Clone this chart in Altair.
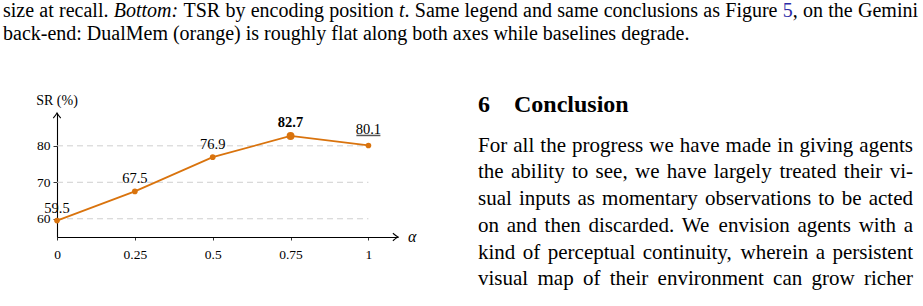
import altair as alt
import pandas as pd

# ---------------- data ----------------
alpha = [0, 0.25, 0.5, 0.75, 1]
sr = [59.5, 67.5, 76.9, 82.7, 80.1]
best_alpha = 0.75          # bold label
second_alpha = 1.0         # underlined label
grid_vals = [60, 70, 80]
x_ticks = [0, 0.25, 0.5, 0.75, 1]

# caption tokens: (text, style, glued-to-previous)
caption1 = [
    ("size", "n", False), ("at", "n", False), ("recall.", "n", False),
    ("Bottom:", "i", False), ("TSR", "n", False), ("by", "n", False),
    ("encoding", "n", False), ("position", "n", False), ("t", "i", False),
    (".", "n", True), ("Same", "n", False), ("legend", "n", False),
    ("and", "n", False), ("same", "n", False), ("conclusions", "n", False),
    ("as", "n", False), ("Figure", "n", False), ("5", "b", False),
    (",", "n", True), ("on", "n", False), ("the", "n", False), ("Gemini", "n", False),
]
caption2 = "back-end: DualMem (orange) is roughly flat along both axes while baselines degrade."
heading_num = "6"
heading_txt = "Conclusion"
body_lines = [
    "For all the progress we have made in giving agents",
    "the ability to see, we have largely treated their vi-",
    "sual inputs as momentary observations to be acted",
    "on and then discarded. We envision agents with a",
    "kind of perceptual continuity, wherein a persistent",
    "visual map of their environment can grow richer",
]

# ---------------- style / layout ----------------
ORANGE = "#D9730D"
LINKBLUE = "#2B2BA6"
FONT = "Liberation Serif, Times New Roman, Times, serif"
LEFT, TOP = 57, 113          # page position of the plot origin
W, H = 341, 124              # plot area (axis lengths)

ROMAN = {" ": 250, "!": 333, "(": 333, ")": 333, ",": 250, "-": 333, ".": 250,
         ":": 278, ";": 278, "%": 833,
         "A": 722, "B": 667, "C": 667, "D": 722, "E": 611, "F": 556, "G": 722,
         "H": 722, "I": 333, "J": 389, "K": 722, "L": 611, "M": 889, "N": 722,
         "O": 722, "P": 556, "Q": 722, "R": 667, "S": 556, "T": 611, "U": 722,
         "V": 722, "W": 944, "X": 722, "Y": 722, "Z": 611,
         "a": 444, "b": 500, "c": 444, "d": 500, "e": 444, "f": 333, "g": 500,
         "h": 500, "i": 278, "j": 278, "k": 500, "l": 278, "m": 778, "n": 500,
         "o": 500, "p": 500, "q": 500, "r": 333, "s": 389, "t": 278, "u": 500,
         "v": 500, "w": 722, "x": 500, "y": 500, "z": 444}
ITALIC = dict(ROMAN)
ITALIC.update({"B": 611, "m": 722, ":": 333, "t": 278, "o": 500})


def tok_width(t, style, size):
    table = ITALIC if style == "i" else ROMAN
    return sum(table.get(c, 500) for c in t) / 1000.0 * size


def justify(tokens, x0, x1, size, base_y):
    widths = [tok_width(t, s, size) for t, s, g in tokens]
    gaps = sum(1 for t, s, g in tokens[1:] if not g)
    space = (x1 - x0 - sum(widths)) / max(gaps, 1)
    rows, x = [], x0
    for i, ((t, s, g), w) in enumerate(zip(tokens, widths)):
        if i > 0 and not g:
            x += space
        rows.append({"word": t, "px": x - LEFT, "py": base_y - TOP, "style": s})
        x += w
    return rows


rows = justify(caption1, 3, 918, 20, 17)
rows.append({"word": caption2, "px": 3 - LEFT, "py": 40 - TOP, "style": "n"})
cap_df = pd.DataFrame(rows)

body_rows = []
for k, line in enumerate(body_lines):
    toks = [(w, "n", False) for w in line.split(" ")]
    body_rows += justify(toks, 478, 913, 21, 151.7 + 26.7 * k)
body_df = pd.DataFrame(body_rows)

head_df = pd.DataFrame([
    {"word": heading_num, "px": 478 - LEFT, "py": 111.7 - TOP},
    {"word": heading_txt, "px": 514 - LEFT, "py": 111.7 - TOP},
])

df = pd.DataFrame({"alpha": alpha, "sr": sr})
grid_df = pd.DataFrame({"gy": grid_vals, "x0": [0] * len(grid_vals), "x1": [1] * len(grid_vals)})

xs = alt.Scale(domain=[0, 1.095], nice=False, zero=False)
ys = alt.Scale(domain=[55, 89], nice=False, zero=False)

x_axis = alt.Axis(values=x_ticks, labelExpr="format(datum.value, '.2~f')", title=None, grid=False,
                  domainColor="black", domainWidth=1.1, tickColor="black",
                  tickSize=3, tickWidth=0.8, labelPadding=18, labelBaseline="alphabetic",
                  labelFont=FONT, labelFontSize=13.5, labelColor="black",
                  labelFlush=False, labelOverlap=False)
y_axis = alt.Axis(values=grid_vals, title=None, grid=False,
                  domainColor="black", domainWidth=1.1, tickColor="black",
                  tickSize=4, tickWidth=0.8, labelPadding=3, labelBaseline="middle",
                  labelFont=FONT, labelFontSize=13.5, labelColor="black",
                  labelOverlap=False)

grid = alt.Chart(grid_df).mark_rule(color="#cfcfcf", strokeWidth=1, strokeDash=[6, 4]).encode(
    x=alt.X("x0:Q", scale=xs, axis=x_axis), x2="x1:Q",
    y=alt.Y("gy:Q", scale=ys, axis=y_axis))

base = alt.Chart(df).encode(x=alt.X("alpha:Q", scale=xs, axis=None),
                            y=alt.Y("sr:Q", scale=ys, axis=None))
line = base.mark_line(color=ORANGE, strokeWidth=1.8)
pts = base.transform_filter(alt.datum.alpha != best_alpha).mark_circle(
    color=ORANGE, size=32, opacity=1)
big = base.transform_filter(alt.datum.alpha == best_alpha).mark_circle(
    color=ORANGE, size=62, opacity=1)

lbl_kw = dict(font=FONT, fontSize=14.5, color="black", align="center", baseline="alphabetic")
lbl = base.transform_filter((alt.datum.alpha != best_alpha) & (alt.datum.alpha != second_alpha)).mark_text(
    dy=-8, **lbl_kw).encode(text=alt.Text("sr:Q", format=".1f"))
lbl_best = base.transform_filter(alt.datum.alpha == best_alpha).mark_text(
    dy=-9, fontWeight="bold", **lbl_kw).encode(text=alt.Text("sr:Q", format=".1f"))
lbl_2nd = base.transform_filter(alt.datum.alpha == second_alpha).mark_text(
    dy=-11, **lbl_kw).encode(text=alt.Text("sr:Q", format=".1f"))
uline = base.transform_filter(alt.datum.alpha == second_alpha).mark_tick(
    orient="horizontal", size=24, thickness=1.5, color="#555555", yOffset=-10, opacity=1)

one = alt.Data(values=[{"k": 1}])
arrow_r = alt.Chart(one).mark_point(
    shape="M-1.7,-1.25Q-0.6,-0.3,0,0Q-0.6,0.3,-1.7,1.25", size=36, filled=False,
    stroke="black", strokeWidth=1.1, opacity=1).encode(x=alt.value(W), y=alt.value(H))
arrow_u = alt.Chart(one).mark_point(
    shape="M-1.25,1.7Q-0.3,0.6,0,0Q0.3,0.6,1.25,1.7", size=36, filled=False,
    stroke="black", strokeWidth=1.1, opacity=1).encode(x=alt.value(0), y=alt.value(0))
ylab = alt.Chart(one).mark_text(text="SR (%)", font=FONT, fontSize=14, color="black",
                                align="center", baseline="alphabetic").encode(
    x=alt.value(0), y=alt.value(105 - TOP))
alab = alt.Chart(one).mark_text(text="α", font=FONT, fontSize=16, fontStyle="italic",
                                color="black", align="left", baseline="alphabetic").encode(
    x=alt.value(408 - LEFT), y=alt.value(242 - TOP))


def text_layer(data, flt=None, color="black", **mk):
    c = alt.Chart(data)
    if flt is not None:
        c = c.transform_filter(flt)
    return c.mark_text(align="left", baseline="alphabetic", font=FONT, color=color, **mk).encode(
        x=alt.X("px:Q", scale=None, axis=None),
        y=alt.Y("py:Q", scale=None, axis=None),
        text="word:N")


cap_n = text_layer(cap_df, alt.datum.style == "n", fontSize=20)
cap_i = text_layer(cap_df, alt.datum.style == "i", fontSize=20, fontStyle="italic")
cap_b = text_layer(cap_df, alt.datum.style == "b", color=LINKBLUE, fontSize=20)
body = text_layer(body_df, fontSize=21)
head = text_layer(head_df, fontSize=24, fontWeight="bold")

chart = alt.layer(
    grid, line, pts, big, lbl, lbl_best, lbl_2nd, uline, arrow_r, arrow_u, ylab, alab,
    cap_n, cap_i, cap_b, body, head,
).resolve_scale(x="independent", y="independent").properties(
    width=W, height=H,
    padding={"left": LEFT, "top": TOP, "right": 923 - LEFT - W, "bottom": 306 - TOP - H},
    autosize=alt.AutoSizeParams(type="none"),
    background="white",
).configure_view(stroke=None)

chart.save("out.html", embed_options={"renderer": "svg", "actions": False})
